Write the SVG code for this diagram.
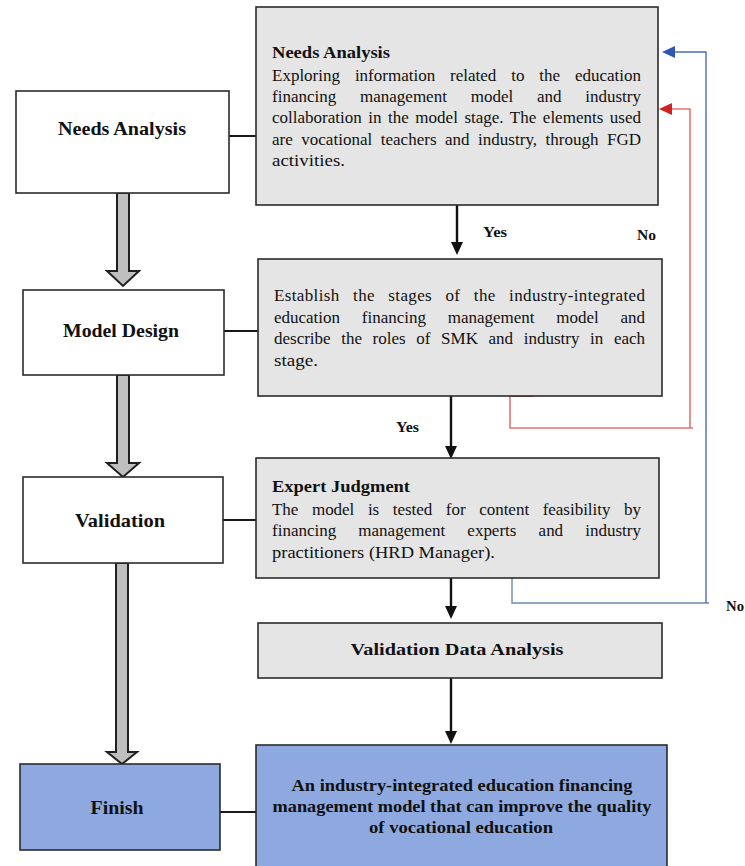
<svg xmlns="http://www.w3.org/2000/svg" width="745" height="866" viewBox="0 0 745 866">
<defs>
<style>
.box{stroke:#2b2b2b;stroke-width:1.6}
.white{fill:#ffffff}
.grey{fill:#e5e5e5}
.blue{fill:#8ea9e0}
.t{font-family:"Liberation Serif","Times New Roman",serif;fill:#111}
.body{font-size:17px}
.lbl{font-size:19px;font-weight:bold}
.ttl{font-size:17px;font-weight:bold}
.yn{font-size:14.5px;font-weight:bold}
.conn{fill:none;stroke:#1a1a1a;stroke-width:2}
.blk{fill:#bfbfbf;stroke:#1f1f1f;stroke-width:2;stroke-linejoin:miter}
.down{fill:none;stroke:#111;stroke-width:2.4}
.head{fill:#111}
</style>
</defs>

<g id="connectors">
<line class="conn" x1="229" y1="136" x2="256" y2="136"/>
<line class="conn" x1="224" y1="331" x2="258" y2="331"/>
<line class="conn" x1="223" y1="520" x2="256" y2="520"/>
<line class="conn" x1="220" y1="812" x2="256" y2="812" stroke-width="1.5"/>
<path class="blk" d="M117,193 V271 H107 L123,286 L139,271 H129 V193 Z"/>
<path class="blk" d="M117,375 V463 H107 L123,477 L139,463 H129 V375 Z"/>
<path class="blk" d="M116,563 V752 H107 L122,764 L137,752 H128 V563 Z"/>
<path class="down" d="M457,205 V243" stroke-width="1.6"/>
<path class="down" d="M451,396 V447"/>
<path class="down" d="M451,578 V607"/>
<path class="down" d="M451,678 V732"/>
<path class="head" d="M451,242 L463,242 L457,255 Z"/>
<path class="head" d="M445,446 L457,446 L451,459 Z"/>
<path class="head" d="M445,606 L457,606 L451,619 Z"/>
<path class="head" d="M445,731 L457,731 L451,744 Z"/>
<path d="M510,396 H533" stroke="#e03030" stroke-width="1.6" fill="none"/>
<path d="M510,396 V428 H693 M690,428 V109 H671" stroke="#e77373" stroke-width="1.6" fill="none"/>
<path d="M672,103 L672,115 L659,109 Z" fill="#d42020"/>
<path d="M512,578 V603 H709" stroke="#6f88ad" stroke-width="1.4" fill="none"/>
<path d="M706,603 V52 H674" stroke="#4a6cc0" stroke-width="1.4" fill="none"/>
<path d="M675,46 L675,58 L662,52 Z" fill="#2f55b0"/>
<text class="t yn" x="483" y="237" textLength="24" lengthAdjust="spacingAndGlyphs">Yes</text>
<text class="t yn" x="637" y="240" textLength="19" lengthAdjust="spacingAndGlyphs">No</text>
<text class="t yn" x="396" y="432" textLength="23" lengthAdjust="spacingAndGlyphs">Yes</text>
<text class="t yn" x="726" y="611" textLength="18" lengthAdjust="spacingAndGlyphs">No</text>
</g>

<g id="needs-analysis-stage">
<rect class="box white" x="16" y="91" width="213" height="102"/>
<text class="t lbl" x="122" y="135" text-anchor="middle" textLength="128" lengthAdjust="spacingAndGlyphs">Needs Analysis</text>
</g>
<g id="model-design-stage">
<rect class="box white" x="23" y="290" width="201" height="85"/>
<text class="t lbl" x="121" y="337" text-anchor="middle" textLength="116" lengthAdjust="spacingAndGlyphs">Model Design</text>
</g>
<g id="validation-stage">
<rect class="box white" x="23" y="477" width="200" height="86"/>
<text class="t lbl" x="120" y="527" text-anchor="middle" textLength="90" lengthAdjust="spacingAndGlyphs">Validation</text>
</g>
<g id="finish-stage">
<rect class="box blue" x="20" y="764" width="200" height="86"/>
<text class="t lbl" x="117" y="814" text-anchor="middle" textLength="53" lengthAdjust="spacingAndGlyphs">Finish</text>
</g>

<g id="needs-analysis-detail">
<rect class="box grey" x="256" y="7" width="402" height="198"/>
<text class="t ttl" x="272" y="58" textLength="118" lengthAdjust="spacingAndGlyphs">Needs Analysis</text>
<text class="t body" x="272" y="81" word-spacing="10.6" textLength="369" lengthAdjust="spacing">Exploring information related to the education</text>
<text class="t body" x="272" y="102" word-spacing="19.5" textLength="369" lengthAdjust="spacing">financing management model and industry</text>
<text class="t body" x="272" y="123" word-spacing="2.3" textLength="369" lengthAdjust="spacing">collaboration in the model stage. The elements used</text>
<text class="t body" x="272" y="145" word-spacing="4.1" textLength="369" lengthAdjust="spacing">are vocational teachers and industry, through FGD</text>
<text class="t body" x="272" y="166" textLength="73" lengthAdjust="spacingAndGlyphs">activities.</text>
</g>

<g id="model-design-detail">
<rect class="box grey" x="258" y="259" width="404" height="137"/>
<text class="t body" x="274" y="301" word-spacing="8.8" textLength="371" lengthAdjust="spacing">Establish the stages of the industry-integrated</text>
<text class="t body" x="274" y="323" word-spacing="17.5" textLength="371" lengthAdjust="spacing">education financing management model and</text>
<text class="t body" x="274" y="344" word-spacing="6.4" textLength="371" lengthAdjust="spacing">describe the roles of SMK and industry in each</text>
<text class="t body" x="274" y="366" textLength="44" lengthAdjust="spacingAndGlyphs">stage.</text>
</g>

<g id="expert-judgment">
<rect class="box grey" x="256" y="458" width="403" height="120"/>
<text class="t ttl" x="272" y="492" textLength="138" lengthAdjust="spacingAndGlyphs">Expert Judgment</text>
<text class="t body" x="272" y="515" word-spacing="9.3" textLength="369" lengthAdjust="spacing">The model is tested for content feasibility by</text>
<text class="t body" x="272" y="536" word-spacing="17.9" textLength="369" lengthAdjust="spacing">financing management experts and industry</text>
<text class="t body" x="272" y="558" textLength="223" lengthAdjust="spacingAndGlyphs">practitioners (HRD Manager).</text>
</g>

<g id="validation-data-analysis">
<rect class="box grey" x="258" y="623" width="404" height="55"/>
<text class="t ttl" x="457" y="655" text-anchor="middle" textLength="213" lengthAdjust="spacingAndGlyphs">Validation Data Analysis</text>
</g>

<g id="final-model">
<rect class="box blue" x="256" y="745" width="411" height="125"/>
<text class="t ttl" x="462" y="791" text-anchor="middle" textLength="341" lengthAdjust="spacingAndGlyphs">An industry-integrated education financing</text>
<text class="t ttl" x="462" y="812" text-anchor="middle" textLength="379" lengthAdjust="spacingAndGlyphs">management model that can improve the quality</text>
<text class="t ttl" x="461" y="833" text-anchor="middle" textLength="184" lengthAdjust="spacingAndGlyphs">of vocational education</text>
</g>
</svg>
